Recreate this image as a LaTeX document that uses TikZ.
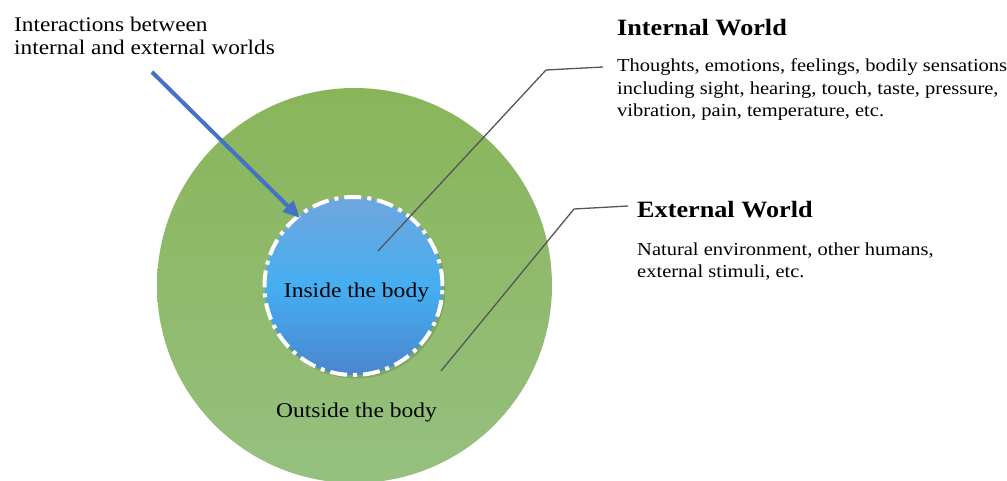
\documentclass[tikz,border=0pt]{standalone}
\usepackage{fontspec}
\setmainfont[FakeStretch=1.12]{Liberation Serif}
\usetikzlibrary{arrows.meta}
\definecolor{greenTop}{HTML}{89B55A}
\definecolor{greenBot}{HTML}{96C07F}
\definecolor{blueTop}{HTML}{70A6DE}
\definecolor{blueMid}{HTML}{45AEF1}
\definecolor{blueBot}{HTML}{4A86CF}
\definecolor{arrowBlue}{HTML}{4472C4}
\definecolor{leader}{HTML}{555555}
\tikzset{
  txt/.style={anchor=base west, align=left, inner sep=0pt, font=\fontsize{18.3}{22.5}\selectfont},
  ttl/.style={anchor=base west, inner sep=0pt, font=\fontsize{23.4}{28}\selectfont\bfseries},
  lbl/.style={anchor=base, inner sep=0pt, font=\fontsize{21}{25}\selectfont},
  leaderline/.style={draw=leader, line width=1.3pt},
}
\begin{document}
\begin{tikzpicture}[x=1pt,y=-1pt]
\useasboundingbox (0,0) rectangle (1007,481);
% outer circle
\node[circle, minimum size=395pt, inner sep=0pt, top color=greenTop, bottom color=greenBot, draw=none] (outer) at (354.5,285.5) {};
% inner circle shadow
\fill[black, opacity=0.12] (355.5,288.5) circle (90pt);
\node[circle, minimum size=178pt, inner sep=0pt, top color=blueTop, bottom color=blueBot, middle color=blueMid, draw=white, line width=4pt, dash pattern=on 17pt off 6pt on 4pt off 6pt] (inner) at (353.5,286) {};
% texts
\node[lbl] (insideTxt) at (356.5,298) {Inside the body};
\node[lbl] (outsideTxt) at (356.5,417) {Outside the body};
\node[txt, font=\fontsize{20.8}{23}\selectfont] (interTxt) at (14,55) {Interactions between\\internal and external worlds};
\node[ttl] (intTitle) at (617,35.5) {Internal World};
\node[txt] (intTxt) at (617,117) {Thoughts, emotions, feelings, bodily sensations\\including sight, hearing, touch, taste, pressure,\\vibration, pain, temperature, etc.};
\node[ttl] (extTitle) at (637,217.5) {External World};
\node[txt] (extTxt) at (637,277.5) {Natural environment, other humans,\\external stimuli, etc.};
% arrow
\coordinate (arrStart) at (152,72);
\coordinate (arrEnd) at (300,218);
\draw[arrowBlue, line width=4pt, -{Triangle[length=17pt,width=15pt]}] (arrStart) -- (arrEnd);
% leader lines
\coordinate (intPt) at (378,251);
\coordinate (intKink) at (546,70);
\coordinate (intEnd) at (603,67);
\draw[leaderline] (intPt) -- (intKink) -- (intEnd);
\coordinate (extPt) at (441,371);
\coordinate (extKink) at (574,209);
\coordinate (extEnd) at (628,206);
\draw[leaderline] (extPt) -- (extKink) -- (extEnd);
\end{tikzpicture}
\end{document}
